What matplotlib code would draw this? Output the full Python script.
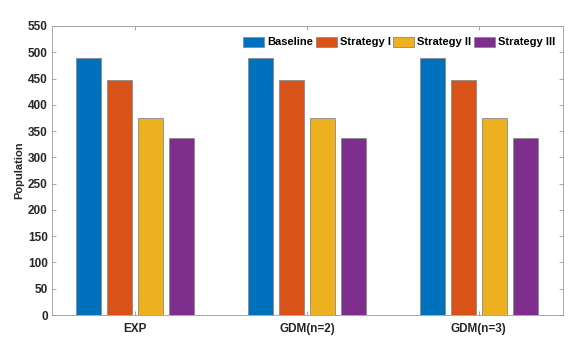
import numpy as np
import matplotlib
matplotlib.use("Agg")
import matplotlib.pyplot as plt

plt.rcParams['font.family'] = ['Liberation Sans', 'DejaVu Sans']

# 数据
categories = ["EXP", "GDM(n=2)", "GDM(n=3)"]
series_names = ["Baseline", "Strategy I", "Strategy II", "Strategy III"]
baseline = [489, 489, 489]
strategy_1 = [447, 447, 447]
strategy_2 = [375, 375, 375]
strategy_3 = [337, 337, 337]
colors = ["#0072BD", "#D95319", "#EDB120", "#7E2F8E"]

fig = plt.figure(figsize=(5.84, 3.52), dpi=100)
ax = fig.add_axes([52/584, 1 - 315/352, 511/584, 289/352])

x = np.arange(1, len(categories) + 1)
offsets = [-0.27, -0.09, 0.09, 0.27]
width = 0.145
for vals, name, c, off in zip([baseline, strategy_1, strategy_2, strategy_3],
                              series_names, colors, offsets):
    ax.bar(x + off, vals, width, color=c, edgecolor="#8a8a8a", linewidth=0.6, label=name)

ax.set_xlim(0.515, 3.49)
ax.set_ylim(0, 550)
ax.set_yticks(range(0, 551, 50))
ax.set_xticks(x)
ax.set_xticklabels(categories)
for lab in ax.get_xticklabels() + ax.get_yticklabels():
    lab.set_fontweight("bold")
    lab.set_fontsize(8.5)
    lab.set_color("#262626")

ax.tick_params(direction="in", length=3, width=0.6, color="#999999",
               top=True, right=True, pad=3)
ax.tick_params(axis="x", pad=6)
for s in ax.spines.values():
    s.set_color("#999999")
    s.set_linewidth(0.6)

ax.set_ylabel("Population", fontsize=8, fontweight="bold", color="#262626", labelpad=3)

leg = ax.legend(ncol=4, loc="upper right", bbox_to_anchor=(1.0, 0.99), frameon=False,
                handlelength=1.9, handleheight=1.0, handletextpad=0.25,
                columnspacing=0.25, borderaxespad=0.3,
                prop={"weight": "bold", "size": 8})

plt.savefig("out.png", dpi=100)
